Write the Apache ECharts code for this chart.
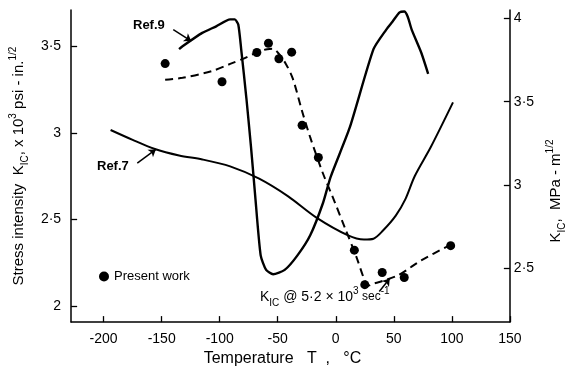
<!DOCTYPE html>
<html>
<head>
<meta charset="utf-8">
<script src="https://cdn.jsdelivr.net/npm/echarts@6/dist/echarts.min.js"></script>
<style>
  html, body { margin: 0; padding: 0; background: #fff; }
  #chart { width: 575px; height: 372px; }
</style>
</head>
<body>
<div id="chart"></div>
<script>
// temperature (°C) and K_IC (ksi·in^1/2)
const presentT = [-147, -98, -68, -58, -49, -38, -29, -15, 16, 25, 40, 59, 99]
const presentK = [3.40, 3.295, 3.464, 3.517, 3.428, 3.466, 3.044, 2.858, 2.324, 2.125, 2.195, 2.166, 2.35]

const dashT = [-147, -132, -107, -91, -77, -66, -59, -54, -50, -43, -37, -29, -22, -11, -2, 8, 17.5, 25.5, 28.5, 32, 39, 54, 65, 74, 98]
const dashK = [3.307, 3.318, 3.356, 3.398, 3.436, 3.47, 3.483, 3.485, 3.464, 3.398, 3.313, 3.125, 2.974, 2.766, 2.62, 2.45, 2.29, 2.14, 2.12, 2.13, 2.143, 2.18, 2.227, 2.267, 2.352]

const ref9T = [-135, -132, -115, -103, -91, -87, -84, -81.5, -77, -73, -69.4, -64.7, -60, -54, -44, -33, -22, -11, -4.4, 12, 32.5, 43.5, 49, 55, 59, 62, 65.4, 73.6, 79.6]
const ref9K = [3.483, 3.50, 3.577, 3.615, 3.655, 3.655, 3.625, 3.484, 3.20, 2.917, 2.636, 2.294, 2.21, 2.185, 2.21, 2.294, 2.41, 2.596, 2.747, 3.03, 3.483, 3.596, 3.643, 3.695, 3.70, 3.67, 3.596, 3.464, 3.341]

const ref7T = [-194, -175, -156.5, -135, -115, -91, -66, -41, -17, 10.6, 24.3, 32.5, 40.7, 51.7, 60, 68, 82, 101]
const ref7K = [3.017, 2.96, 2.909, 2.87, 2.847, 2.807, 2.736, 2.634, 2.513, 2.409, 2.385, 2.39, 2.437, 2.523, 2.618, 2.75, 2.92, 3.176]

const xTicks = [-200, -150, -100, -50, 0, 50, 100, 150]
const leftTicks = [2, 2.5, 3, 3.5]
const rightTicks = [2.5, 3, 3.5, 4]

const pairs = (xs, ys) => xs.map((x, i) => [x, ys[i]])
const dot = v => String(v).replace('.', '·')

const FONT = 'Liberation Sans'
const rich = {
  b: {fontSize: 15, fontFamily: FONT, color: '#000', lineHeight: 22},
  sub: {fontSize: 10, fontFamily: FONT, color: '#000', verticalAlign: 'bottom', lineHeight: 22},
  sup: {fontSize: 10, fontFamily: FONT, color: '#000', verticalAlign: 'top', lineHeight: 22}
}

const axisCommon = {
  axisLine: {show: true, onZero: false, lineStyle: {color: '#000', width: 1.5}},
  axisTick: {show: true, inside: true, length: 6, lineStyle: {color: '#000', width: 1.3}},
  splitLine: {show: false},
  axisLabel: {color: '#000', fontSize: 14, fontFamily: FONT, formatter: dot}
}

const chart = echarts.init(document.getElementById('chart'))
chart.setOption({
  animation: false,
  backgroundColor: '#fff',
  grid: {left: 63, right: 52, top: 10, bottom: 44},
  legend: {
    data: ['Present work'],
    left: 94, top: 265,
    itemWidth: 10, itemHeight: 10,
    textStyle: {fontSize: 13, fontFamily: FONT, color: '#000'}
  },
  xAxis: {
    type: 'value', min: -228, max: 150,
    ...axisCommon,
    axisTick: {...axisCommon.axisTick, customValues: xTicks},
    axisLabel: {...axisCommon.axisLabel, customValues: xTicks, margin: 10},
    name: 'Temperature   T  ,   °C',
    nameLocation: 'middle', nameGap: 28,
    nameTextStyle: {fontSize: 16, fontFamily: FONT, color: '#000', padding: [0, 16, 0, 0]}
  },
  yAxis: [{
    type: 'value', min: 1.909, max: 3.709, position: 'left',
    ...axisCommon,
    axisTick: {...axisCommon.axisTick, customValues: leftTicks},
    axisLabel: {...axisCommon.axisLabel, customValues: leftTicks, margin: 10},
    name: '{b|Stress intensity  K}{sub|IC}{b|, x 10}{sup|3}{b| psi - in.}{sup|1/2}',
    nameLocation: 'middle', nameRotate: 90, nameGap: 33,
    nameTextStyle: {rich}
  }, {
    type: 'value', min: 2.179, max: 4.05, position: 'right',
    ...axisCommon,
    axisTick: {...axisCommon.axisTick, customValues: rightTicks},
    axisLabel: {...axisCommon.axisLabel, customValues: rightTicks, margin: 4},
    name: '{b|K}{sub|IC}{b|,  MPa - m}{sup|1/2}',
    nameLocation: 'middle', nameRotate: 90, nameGap: 24,
    nameTextStyle: {rich, padding: [0, 50, 0, 0]}
  }],
  series: [{
    name: 'Ref.9', type: 'line', data: pairs(ref9T, ref9K),
    smooth: 0.2, showSymbol: false,
    lineStyle: {color: '#000', width: 2.4}
  }, {
    name: 'Ref.7', type: 'line', data: pairs(ref7T, ref7K),
    smooth: 0.3, showSymbol: false,
    lineStyle: {color: '#000', width: 2}
  }, {
    name: 'KIC rate', type: 'line', data: pairs(dashT, dashK),
    smooth: 0.3, showSymbol: false,
    lineStyle: {color: '#000', width: 2, type: [8, 5]},
    markLine: {
      silent: true, symbol: ['none', 'arrow'], symbolSize: 7,
      label: {show: false},
      lineStyle: {color: '#000', width: 1.5, type: 'solid'},
      data: [
        [{coord: [-140, 3.596]}, {coord: [-124.5, 3.53]}],
        [{coord: [-171, 2.826], lineStyle: {curveness: -0.3}}, {coord: [-155, 2.905]}],
        [{coord: [37.5, 2.085], lineStyle: {curveness: 0.3}}, {coord: [46.5, 2.16]}]
      ]
    }
  }, {
    name: 'Present work', type: 'scatter', data: pairs(presentT, presentK),
    symbol: 'circle', symbolSize: 9,
    itemStyle: {color: '#000', opacity: 1}
  }],
  graphic: [
    {type: 'text', left: 133, top: 19, style: {text: 'Ref.9', font: 'bold 13px ' + FONT, fill: '#000'}},
    {type: 'text', left: 97, top: 160, style: {text: 'Ref.7', font: 'bold 13px ' + FONT, fill: '#000'}},
    {type: 'text', left: 260, top: 286, style: {
      text: '{b|K}{sub|IC}{b| @ 5·2 × 10}{sup|3}{s| sec}{sup|-1}',
      rich: {
        b: {fontSize: 14, fontFamily: FONT, fill: '#000', lineHeight: 22},
        s: {fontSize: 12, fontFamily: FONT, fill: '#000', lineHeight: 22},
        sub: {fontSize: 10, fontFamily: FONT, fill: '#000', lineHeight: 22, verticalAlign: 'bottom'},
        sup: {fontSize: 10, fontFamily: FONT, fill: '#000', lineHeight: 22, verticalAlign: 'top'}
      }
    }}
  ]
})
</script>
</body>
</html>
